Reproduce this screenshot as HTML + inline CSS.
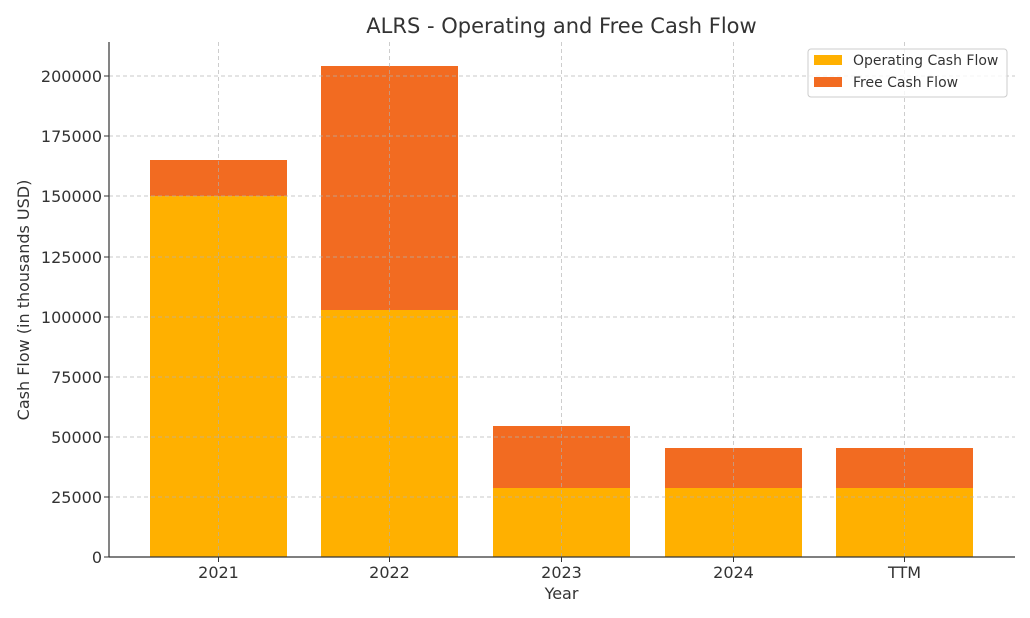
<!DOCTYPE html>
<html><head><meta charset="utf-8"><style>body{margin:0;background:#fff}svg{display:block}</style></head><body>
<svg width="1030" height="618" xmlns="http://www.w3.org/2000/svg" font-family="DejaVu Sans, Liberation Sans, sans-serif" fill="#333">
<g>
<rect x="150" y="196" width="137" height="361" fill="#ffb000"/><rect x="150" y="160" width="137" height="36" fill="#f26b21"/>
<rect x="321" y="310" width="137" height="247" fill="#ffb000"/><rect x="321" y="66" width="137" height="244" fill="#f26b21"/>
<rect x="493" y="488" width="137" height="69" fill="#ffb000"/><rect x="493" y="426" width="137" height="62" fill="#f26b21"/>
<rect x="665" y="488" width="137" height="69" fill="#ffb000"/><rect x="665" y="448" width="137" height="40" fill="#f26b21"/>
<rect x="836" y="488" width="137" height="69" fill="#ffb000"/><rect x="836" y="448" width="137" height="40" fill="#f26b21"/>
</g>
<g stroke="#b0b0b0" stroke-opacity="0.7" stroke-dasharray="4,3" stroke-width="0.9">
<line x1="109" x2="1015" y1="497" y2="497"/><line x1="109" x2="1015" y1="437" y2="437"/><line x1="109" x2="1015" y1="377" y2="377"/><line x1="109" x2="1015" y1="317" y2="317"/><line x1="109" x2="1015" y1="257" y2="257"/><line x1="109" x2="1015" y1="196" y2="196"/><line x1="109" x2="1015" y1="136" y2="136"/><line x1="109" x2="1015" y1="76" y2="76"/>
<line x1="218.5" x2="218.5" y1="42" y2="557"/><line x1="389.5" x2="389.5" y1="42" y2="557"/><line x1="561.5" x2="561.5" y1="42" y2="557"/><line x1="733.5" x2="733.5" y1="42" y2="557"/><line x1="904.5" x2="904.5" y1="42" y2="557"/>
</g>
<g stroke="#333" stroke-width="1.2"><line x1="109" y1="42" x2="109" y2="557"/><line x1="109" y1="557" x2="1015" y2="557"/></g>
<g stroke="#333"><line x1="104" x2="109" y1="557" y2="557"/><line x1="104" x2="109" y1="497" y2="497"/><line x1="104" x2="109" y1="437" y2="437"/><line x1="104" x2="109" y1="377" y2="377"/><line x1="104" x2="109" y1="317" y2="317"/><line x1="104" x2="109" y1="257" y2="257"/><line x1="104" x2="109" y1="196" y2="196"/><line x1="104" x2="109" y1="136" y2="136"/><line x1="104" x2="109" y1="76" y2="76"/>
<line x1="218.5" x2="218.5" y1="557" y2="562"/><line x1="389.5" x2="389.5" y1="557" y2="562"/><line x1="561.5" x2="561.5" y1="557" y2="562"/><line x1="733.5" x2="733.5" y1="557" y2="562"/><line x1="904.5" x2="904.5" y1="557" y2="562"/></g>
<g font-size="16" text-anchor="end">
<text x="102" y="563">0</text><text x="102" y="503">25000</text><text x="102" y="443">50000</text><text x="102" y="383">75000</text><text x="102" y="323">100000</text><text x="102" y="263">125000</text><text x="102" y="202">150000</text><text x="102" y="142">175000</text><text x="102" y="82">200000</text>
</g>
<g font-size="16" text-anchor="middle">
<text x="218.5" y="578">2021</text><text x="389.5" y="578">2022</text><text x="561.5" y="578">2023</text><text x="733.5" y="578">2024</text><text x="904.5" y="578">TTM</text>
<text x="561.5" y="599">Year</text>
<text transform="translate(29,300) rotate(-90)">Cash Flow (in thousands USD)</text>
<text x="561.5" y="33" font-size="21">ALRS - Operating and Free Cash Flow</text>
</g>
<rect x="808" y="49" width="199" height="48" rx="3" fill="#fff" fill-opacity="0.8" stroke="#ccc"/>
<rect x="814" y="55" width="28" height="10" fill="#ffb000"/><rect x="814" y="77" width="28" height="10" fill="#f26b21"/>
<text x="853" y="65" font-size="14">Operating Cash Flow</text><text x="853" y="87" font-size="14">Free Cash Flow</text>
</svg>
</body></html>
